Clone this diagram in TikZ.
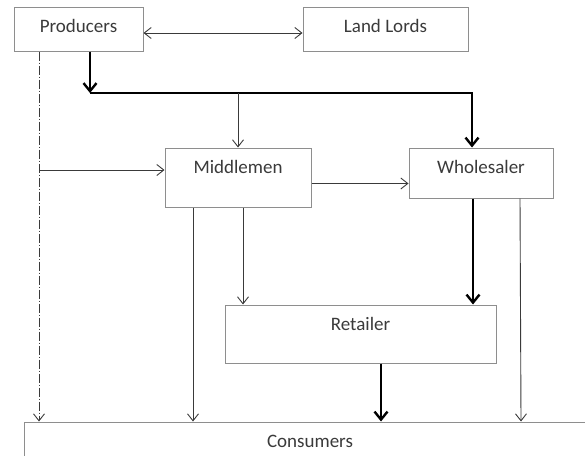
\documentclass[tikz,border=0pt]{standalone}
\usepackage{fontspec}
\setmainfont{Carlito}
\usepackage{xcolor}
\usetikzlibrary{arrows.meta}
\definecolor{linegray}{HTML}{3A3A3A}
\definecolor{boxgray}{HTML}{8E8E8E}

\begin{document}
\begin{tikzpicture}[
		x=1pt, y=-1pt,
		box/.style={draw=boxgray, line width=1pt, inner sep=0pt, anchor=base, text height=25pt, text=linegray},
		flow/.style={draw=linegray, line width=0.9pt, -{Straight Barb[length=7pt,width=11pt]}},
		mainflow/.style={draw=black, line width=2.4pt, -{Straight Barb[length=8pt,width=13pt]}},
		every node/.style = {font=\fontsize{19}{23}\selectfont}
		]
		\useasboundingbox (0,0) rectangle (585,455);
		\node[box, minimum width=129pt, text depth=19pt] (prod) at (78.5,32) {Producers};
		\node[box, minimum width=165pt, text depth=19pt] (land) at (385.5,32) {Land Lords};
		\node[box, minimum width=146pt, text depth=34pt] (mid) at (238,173) {Middlemen};
		\node[box, minimum width=144pt, text depth=25pt] (whole) at (481,173) {Wholesaler};
		\node[box, minimum width=271pt, text depth=33pt] (ret) at (360.5,330) {Retailer};
		\node[box, minimum width=572pt, text depth=20pt] (cons) at (310,447) {Consumers};
		\coordinate (bus) at (90,93);
		\coordinate (side) at (39,170);

		% producers and land lords
		\draw[flow, {Straight Barb[length=7pt,width=11pt]}-{Straight Barb[length=7pt,width=11pt]}] ([yshift=-4pt]prod.east) -- ([yshift=-4pt]land.west);
		% main channel
		\draw[mainflow] (prod.south -| bus) -- (bus);
		\draw[mainflow] (bus) -| ([xshift=-9pt]whole.north);
		\draw[flow] (bus -| mid.north) -- (mid.north);
		% direct sale
		\draw[flow, dash pattern=on 9pt off 2pt on 1pt off 2pt] (prod.south -| side) -- (cons.north -| side);
		\draw[flow] (side) -- (side -| mid.west);
		% middlemen
		\draw[flow] ([yshift=-6pt]mid.east) -- ([yshift=-6pt]mid.east -| whole.west);
		\draw[flow] (mid.south -| 193,0) -- (cons.north -| 193,0);
		\draw[flow] (mid.south -| 243,0) -- (ret.north -| 243,0);
		% wholesaler and retailer
		\draw[mainflow] (whole.south -| 473,0) -- (ret.north -| 473,0);
		\draw[flow] (whole.south -| 520,0) -- (cons.north -| 521,0);
		\draw[mainflow] (ret.south -| 381,0) -- (cons.north -| 381,0);
	\end{tikzpicture}
\end{document}
